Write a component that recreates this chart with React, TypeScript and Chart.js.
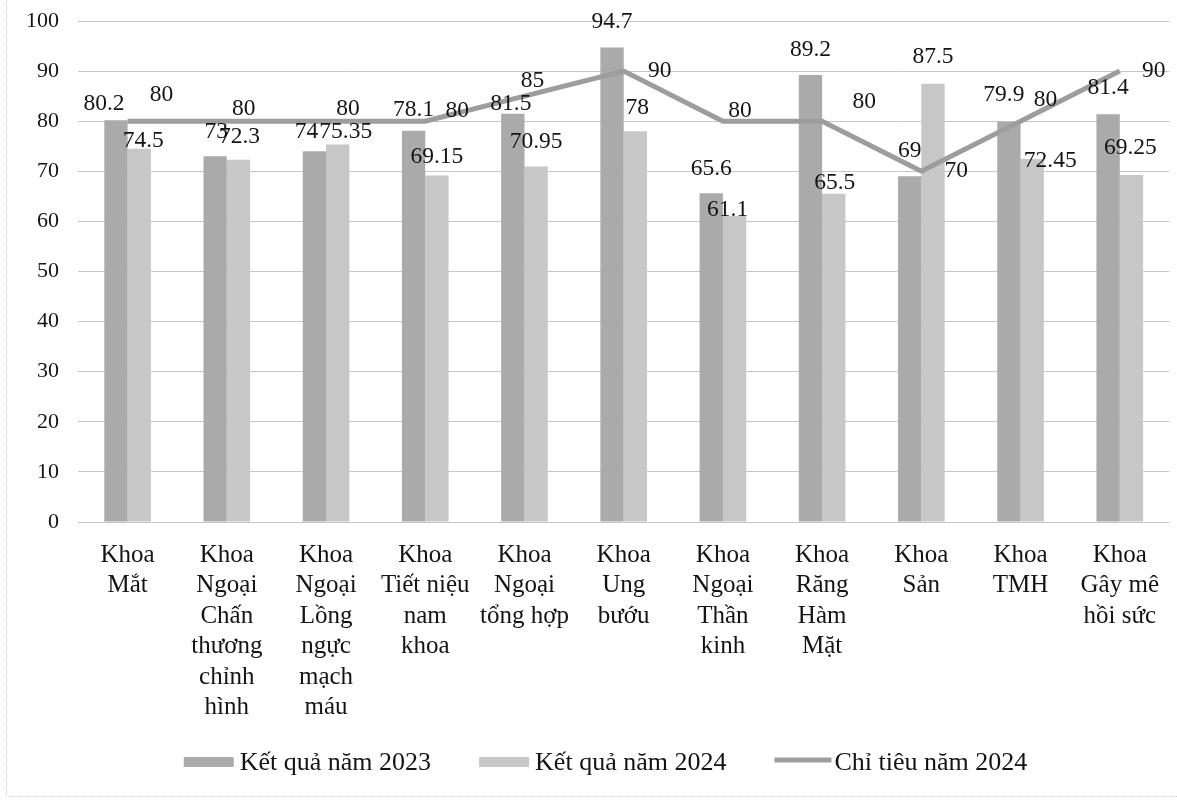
import React, { useEffect, useRef } from "react";
import { Chart, registerables } from "chart.js";

Chart.register(...registerables);

// Departments (multi-line axis labels)
const departments: string[][] = [
  ["Khoa", "Mắt"],
  ["Khoa", "Ngoại", "Chấn", "thương", "chỉnh", "hình"],
  ["Khoa", "Ngoại", "Lồng", "ngực", "mạch", "máu"],
  ["Khoa", "Tiết niệu", "nam", "khoa"],
  ["Khoa", "Ngoại", "tổng hợp"],
  ["Khoa", "Ung", "bướu"],
  ["Khoa", "Ngoại", "Thần", "kinh"],
  ["Khoa", "Răng", "Hàm", "Mặt"],
  ["Khoa", "Sản"],
  ["Khoa", "TMH"],
  ["Khoa", "Gây mê", "hồi sức"],
];

const result2023 = [80.2, 73, 74, 78.1, 81.5, 94.7, 65.6, 89.2, 69, 79.9, 81.4];
const result2024 = [74.5, 72.3, 75.35, 69.15, 70.95, 78, 61.1, 65.5, 87.5, 72.45, 69.25];
const target2024 = [80, 80, 80, 80, 85, 90, 80, 80, 70, 80, 90];

const seriesNames = ["Kết quả năm 2023", "Kết quả năm 2024", "Chỉ tiêu năm 2024"];
const yTicks = [0, 10, 20, 30, 40, 50, 60, 70, 80, 90, 100];

// Label placement: offset of each value label's centre from its mark (bar top / line point)
const labelNudge2023: [number, number][] = [
  [-12, -16], [1, -24], [-8, -19], [0, -21], [-2, -10], [0, -26],
  [0, -25], [0, -25], [0, -25], [-5, -27], [0, -26],
];
const labelNudge2024: [number, number][] = [
  [4, -8], [1, -23], [8, -13], [0, -19], [0, -25], [2, -23],
  [-7, -6], [1, -11], [0, -27], [18, 2], [-1, -27],
];
const labelNudgeTarget: [number, number][] = [
  [34, -26], [17, -12], [22, -12], [32, -10], [8, -15], [36, 0],
  [17, -10], [42, -19], [35, 0], [25, -21], [34, 0],
];

const SERIF = '"Liberation Serif", "Times New Roman", serif';
const TEXT = "#141414";
const C2023 = "#a9aaa9";
const C2024 = "#c6c7c6";
const CLINE = "#9d9d9d";

const valueLabels = {
  id: "valueLabels",
  afterDatasetsDraw(chart: any) {
    const { ctx } = chart;
    const nudges = [labelNudge2023, labelNudge2024, labelNudgeTarget];
    ctx.save();
    ctx.font = `23.5px ${SERIF}`;
    ctx.fillStyle = TEXT;
    ctx.textAlign = "center";
    ctx.textBaseline = "middle";
    chart.data.datasets.forEach((ds: any, di: number) => {
      const meta = chart.getDatasetMeta(di);
      meta.data.forEach((el: any, i: number) => {
        const [dx, dy] = nudges[di][i] || [0, -20];
        ctx.fillText(String(ds.data[i]), el.x + dx, el.y + dy);
      });
    });
    ctx.restore();
  },
};

const bottomLegend = {
  id: "bottomLegend",
  afterDraw(chart: any) {
    const { ctx } = chart;
    const y = 763;
    const markW = [50, 50, 57];
    const textGap = [6, 6, 3];
    const itemGap = 48;
    ctx.save();
    ctx.font = `26px ${SERIF}`;
    const widths = chart.data.datasets.map((ds: any) => ctx.measureText(ds.label).width);
    let total = 0;
    widths.forEach((w: number, i: number) => {
      total += markW[i] + textGap[i] + w + (i < widths.length - 1 ? itemGap : 0);
    });
    let x = chart.width / 2 + 17 - total / 2;
    chart.data.datasets.forEach((ds: any, i: number) => {
      if (ds.type === "line") {
        ctx.strokeStyle = ds.borderColor;
        ctx.lineWidth = 5;
        ctx.beginPath();
        ctx.moveTo(x, y - 3);
        ctx.lineTo(x + markW[i], y - 3);
        ctx.stroke();
      } else {
        ctx.fillStyle = ds.backgroundColor;
        ctx.fillRect(x, y - 6, markW[i], 10);
      }
      x += markW[i] + textGap[i];
      ctx.fillStyle = TEXT;
      ctx.textAlign = "left";
      ctx.textBaseline = "middle";
      ctx.fillText(ds.label, x, y);
      x += widths[i] + itemGap;
    });
    ctx.restore();
  },
};

export default function App() {
  const canvasRef = useRef<HTMLCanvasElement | null>(null);

  useEffect(() => {
    if (!canvasRef.current) return;
    const chart = new Chart(canvasRef.current, {
      type: "bar",
      data: {
        labels: departments,
        datasets: [
          {
            type: "bar",
            label: seriesNames[0],
            data: result2023,
            backgroundColor: C2023,
            categoryPercentage: 0.47,
            barPercentage: 1,
            order: 1,
          },
          {
            type: "bar",
            label: seriesNames[1],
            data: result2024,
            backgroundColor: C2024,
            categoryPercentage: 0.47,
            barPercentage: 1,
            order: 1,
          },
          {
            type: "line",
            label: seriesNames[2],
            data: target2024,
            borderColor: CLINE,
            backgroundColor: CLINE,
            borderWidth: 5,
            pointRadius: 0,
            tension: 0,
            order: 0,
          } as any,
        ],
      },
      options: {
        responsive: false,
        animation: false,
        layout: { padding: { top: 21, left: 0, right: 0, bottom: 0 } },
        plugins: {
          legend: { display: false },
          tooltip: { enabled: false },
        },
        scales: {
          x: {
            offset: true,
            grid: { display: false, drawTicks: false },
            border: { display: false },
            ticks: {
              autoSkip: false,
              maxRotation: 0,
              padding: 18,
              color: TEXT,
              font: { family: SERIF, size: 25, lineHeight: 1.22 },
            },
            afterFit(scale: any) {
              scale.height = 281;
              scale.paddingTop = 0;
              scale.paddingBottom = 0;
            },
          },
          y: {
            min: 0,
            max: 100,
            afterBuildTicks(scale: any) {
              scale.ticks = yTicks.map((v) => ({ value: v }));
            },
            grid: { color: "#c6c6c6", lineWidth: 1, drawTicks: false },
            border: { display: false },
            ticks: {
              padding: 19,
              color: TEXT,
              font: { family: SERIF, size: 22 },
            },
            afterFit(scale: any) {
              scale.width = 78;
              scale.paddingTop = 0;
              scale.paddingBottom = 0;
            },
          },
        },
      },
      plugins: [valueLabels, bottomLegend],
    });
    return () => chart.destroy();
  }, []);

  return (
    <div style={{ position: "absolute", left: 0, top: 0, width: 1177, height: 803, background: "#fff" }}>
      <canvas ref={canvasRef} width={1177} height={803} style={{ display: "block" }} />
      <div
        style={{
          position: "absolute",
          left: 6,
          top: 0,
          width: 1171,
          height: 797,
          borderLeft: "1px dotted #cfcfcf",
          borderBottom: "1px dotted #cfcfcf",
          boxSizing: "border-box",
          pointerEvents: "none",
        }}
      />
    </div>
  );
}
